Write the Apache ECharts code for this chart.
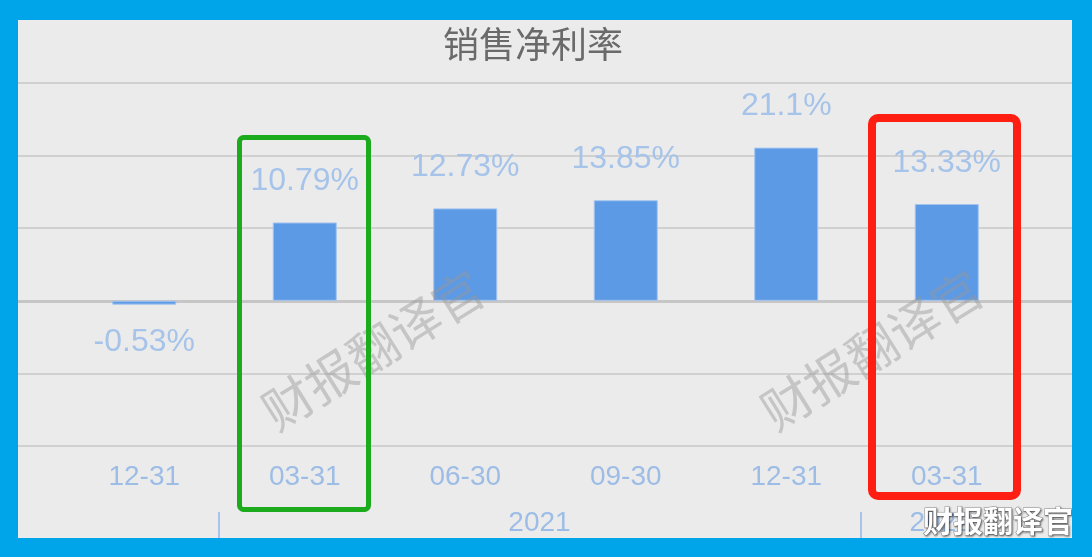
<!DOCTYPE html>
<html><head><meta charset="utf-8">
<script src="https://cdn.jsdelivr.net/npm/echarts@6/dist/echarts.min.js"></script>
<style>
html,body{margin:0;padding:0;background:#00a4e9;}
#c{position:absolute;left:18px;top:20px;width:1054px;height:518px;background:#ebebeb;}
</style></head>
<body><div id="c"></div>
<script>
const title = '销售净利率';
const categories = ['12-31', '03-31', '06-30', '09-30', '12-31', '03-31'];
const values = [-0.53, 10.79, 12.73, 13.85, 21.1, 13.33];
const valueLabels = ['-0.53%', '10.79%', '12.73%', '13.85%', '21.1%', '13.33%'];
const yearLabels = ['2021', '2022'];
const yearCenters = [3, 5.5];
const yearSeparators = [1, 5];
const yTicks = { min: -20, max: 30, interval: 10 };
const watermark = '财报翻译官';

const chart = echarts.init(document.getElementById('c'));
const labelColor = '#a6c3ea';
const axisColor = '#9dbde6';
const numFont = '"Liberation Sans", Arial, sans-serif';
const cjkFont = '"Noto Sans CJK SC", sans-serif';

const yearMap = {};
yearCenters.forEach((v, i) => yearMap[v] = yearLabels[i]);

chart.setOption({
  animation: false,
  title: {
    text: title, left: 425, top: 6, padding: 0,
    textStyle: { fontFamily: cjkFont, fontSize: 36, fontWeight: 'normal', color: '#6a6a6a' }
  },
  grid: [
    { left: 0, right: 0, top: 63, bottom: 92 },
    { left: 46, right: 45, top: 63, bottom: 92 },
    { left: 40, right: 51, top: 63, bottom: 92 }
  ],
  xAxis: [
    { gridIndex: 0, type: 'value', min: 0, max: 1, show: true,
      axisLine: { show: true, onZero: true, lineStyle: { color: '#c6c6c6', width: 3 } },
      axisTick: { show: false }, axisLabel: { show: false }, splitLine: { show: false } },
    { gridIndex: 1, type: 'category', data: categories,
      axisLine: { show: false, onZero: false }, axisTick: { show: false },
      axisLabel: { color: axisColor, fontFamily: numFont, fontSize: 28, margin: 17 } },
    { gridIndex: 2, type: 'value', min: 0, max: 6, position: 'bottom', offset: 66,
      axisLine: { show: false, onZero: false },
      axisTick: { show: true, length: 26, customValues: yearSeparators, lineStyle: { color: '#a9c4e8', width: 2 } },
      axisLabel: { show: true, customValues: yearCenters, color: axisColor, fontFamily: numFont, fontSize: 28, margin: -3,
        formatter: v => yearMap[v] || '' },
      splitLine: { show: false } }
  ],
  yAxis: [
    { gridIndex: 0, type: 'value', min: yTicks.min, max: yTicks.max, interval: yTicks.interval,
      axisLine: { show: false }, axisTick: { show: false }, axisLabel: { show: false },
      splitLine: { show: true, lineStyle: { color: '#d0d0d0', width: 2 } } },
    { gridIndex: 1, type: 'value', min: yTicks.min, max: yTicks.max, interval: yTicks.interval, show: false },
    { gridIndex: 2, type: 'value', min: yTicks.min, max: yTicks.max, interval: yTicks.interval, show: false }
  ],
  series: [{
    type: 'bar', xAxisIndex: 1, yAxisIndex: 1, barWidth: 64,
    itemStyle: { color: '#5c9ae6', borderColor: '#a3c3ef', borderWidth: 1 },
    data: values.map((v, i) => ({
      value: v,
      label: {
        show: true, position: v < 0 ? 'bottom' : 'top', distance: v < 0 ? 22 : 25,
        formatter: () => valueLabels[i],
        color: labelColor, fontFamily: numFont, fontSize: 32
      }
    }))
  }],
  graphic: [
    { type: 'text', x: 355, y: 330, rotation: 32 * Math.PI / 180, z: 100,
      style: { text: watermark, fontFamily: cjkFont, fontSize: 50, fill: 'rgba(150,150,150,0.45)', align: 'center', verticalAlign: 'middle' } },
    { type: 'text', x: 854, y: 330, rotation: 32 * Math.PI / 180, z: 100,
      style: { text: watermark, fontFamily: cjkFont, fontSize: 50, fill: 'rgba(150,150,150,0.45)', align: 'center', verticalAlign: 'middle' } },
    { type: 'rect', z: 101, shape: { x: 221.5, y: 117.5, width: 129, height: 372, r: 4 },
      style: { fill: 'none', stroke: '#1cab1c', lineWidth: 5 } },
    { type: 'rect', z: 101, shape: { x: 854, y: 98, width: 145, height: 378, r: 6 },
      style: { fill: 'none', stroke: '#ff1e12', lineWidth: 8 } },
    { type: 'text', x: 980, y: 501, z: 102,
      style: { text: watermark, fontFamily: cjkFont, fontSize: 30, fontWeight: 'bold', fill: '#ffffff',
        align: 'center', verticalAlign: 'middle', stroke: 'rgba(90,90,90,0.6)', lineWidth: 1,
        textShadowColor: 'rgba(0,0,0,0.5)', textShadowBlur: 2, textShadowOffsetX: 1, textShadowOffsetY: 1 } }
  ]
});
</script></body></html>
